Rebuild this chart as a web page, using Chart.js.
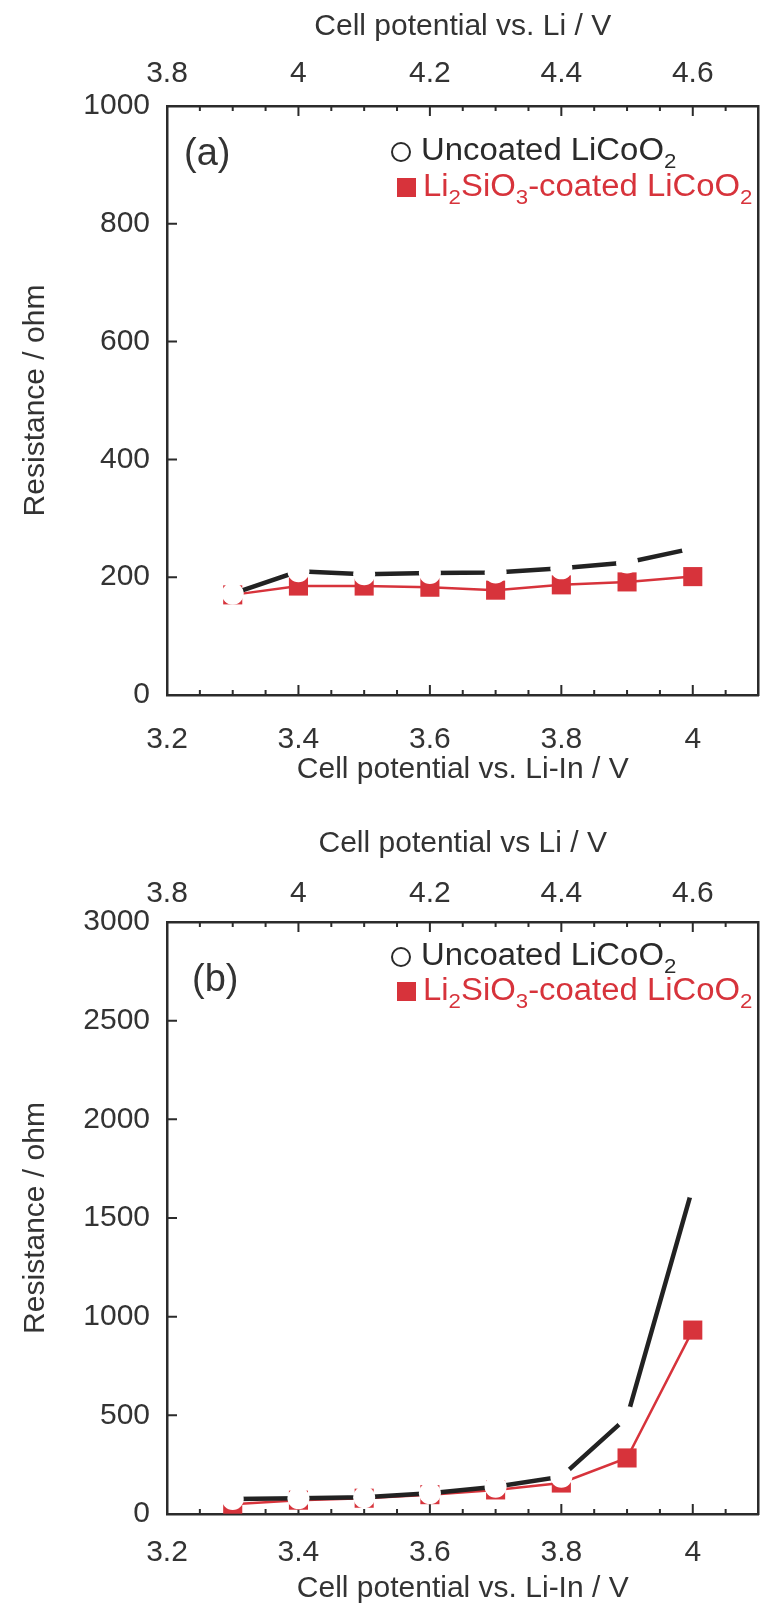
<!DOCTYPE html>
<html>
<head>
<meta charset="utf-8">
<script src="https://cdn.jsdelivr.net/npm/chart.js@4.4.1/dist/chart.umd.min.js"></script>
<style>
html,body{margin:0;padding:0;background:#fff;}
body{width:772px;height:1610px;position:relative;overflow:hidden;font-family:"Liberation Sans",Arial,Helvetica,sans-serif;}
.wrap{position:absolute;left:0;width:772px;}
#wa{top:0;height:800px;}
#wb{top:800px;height:810px;}
.row{position:absolute;height:40px;line-height:40px;white-space:nowrap;font-size:31px;transform:scaleX(1.06);transform-origin:0 50%;}
.row sub{font-size:21px;position:relative;top:8px;vertical-align:baseline;line-height:0;}
.circ{position:absolute;width:16px;height:16px;border:2px solid #2a2a2a;border-radius:50%;background:#fff;}
.sq{position:absolute;width:19px;height:19px;background:#d7333b;}
.panel{position:absolute;font-size:38px;height:40px;line-height:40px;color:#333;white-space:nowrap;}
</style>
</head>
<body>
<div class="wrap" id="wa"><canvas id="ca"></canvas></div>
<div class="wrap" id="wb"><canvas id="cb"></canvas></div>

<div class="panel" style="left:184px;top:132px;">(a)</div>
<div class="circ" style="left:391px;top:142px;"></div>
<div class="row" style="left:421px;top:130px;color:#2a2a2a;">Uncoated LiCoO<sub>2</sub></div>
<div class="sq" style="left:397px;top:178px;"></div>
<div class="row" style="left:423px;top:166px;color:#d7333b;">Li<sub>2</sub>SiO<sub>3</sub>-coated LiCoO<sub>2</sub></div>

<div class="panel" style="left:192px;top:958px;">(b)</div>
<div class="circ" style="left:391px;top:947px;"></div>
<div class="row" style="left:421px;top:935px;color:#2a2a2a;">Uncoated LiCoO<sub>2</sub></div>
<div class="sq" style="left:397px;top:982px;"></div>
<div class="row" style="left:423px;top:970px;color:#d7333b;">Li<sub>2</sub>SiO<sub>3</sub>-coated LiCoO<sub>2</sub></div>

<script>
// ---------- data ----------
const X_LIIN = [3.3, 3.4, 3.5, 3.6, 3.7, 3.8, 3.9, 4.0];
const A_UNCOATED = [172, 210, 205, 207, 208, 215, 225, 249];
const A_COATED   = [170, 185, 185, 183, 178, 187, 192, 201];
const B_UNCOATED = [76, 80, 85, 105, 138, 189, 490, 1657];
const B_COATED   = [50, 70, 80, 98, 122, 157, 284, 932];
const X_TICKS_BOTTOM = [3.2, 3.4, 3.6, 3.8, 4];
const X_TICKS_TOP = [3.8, 4, 4.2, 4.4, 4.6];
const Y_TICKS_A = [0, 200, 400, 600, 800, 1000];
const Y_TICKS_B = [0, 500, 1000, 1500, 2000, 2500, 3000];
const LI_OFFSET = 0.6;

// ---------- styles ----------
const FF = '"Liberation Sans", Arial, Helvetica, sans-serif';
const TXT = '#333333', AX = '#2b2b2b', RED = '#d7333b', BLK = '#222222';

const frameTicks = {
  id: 'frameTicks',
  beforeDatasetsDraw(chart, args, opts) {
    const {ctx, chartArea: ca, scales} = chart;
    const x = scales.x, x2 = scales.x2, y = scales.y;
    ctx.save();
    ctx.strokeStyle = AX; ctx.lineWidth = 2;
    ctx.beginPath();
    const n = Math.round((x.max - x.min) / opts.minorStep);
    for (let k = 1; k < n; k++) {
      const v = x.min + k * opts.minorStep;
      const len = (k % 4 === 0) ? opts.majorLen : opts.minorLen;
      const pb = x.getPixelForValue(v);
      const pt = x2.getPixelForValue(v + LI_OFFSET);
      ctx.moveTo(pb, ca.bottom); ctx.lineTo(pb, ca.bottom - len);
      ctx.moveTo(pt, ca.top); ctx.lineTo(pt, ca.top + len);
    }
    opts.yMajor.forEach(v => {
      if (v === y.min || v === y.max) return;
      const py = y.getPixelForValue(v);
      ctx.moveTo(ca.left, py); ctx.lineTo(ca.left + opts.yLen, py);
    });
    ctx.stroke();
    ctx.restore();
  }
};

function setTicks(arr) { return s => { s.ticks = arr.map(v => ({value: v})); }; }
const fmt = v => String(Math.round(v * 100) / 100);

function makeChart(id, cfg) {
  const font = {family: FF, size: 30};
  const tfont = {family: FF, size: 30};
  const border = {display: true, color: AX, width: 2.5};
  return new Chart(document.getElementById(id), {
    type: 'line',
    data: {
      datasets: [
        {
          label: 'Uncoated LiCoO2',
          data: X_LIIN.map((x, i) => ({x, y: cfg.unc[i]})),
          borderColor: BLK, borderWidth: 4.5,
          pointStyle: 'circle', pointRadius: 11, pointHoverRadius: 11,
          pointBackgroundColor: '#ffffff', pointBorderWidth: 0, pointBorderColor: '#ffffff',
          xAxisID: 'x', yAxisID: 'y', tension: 0, clip: false
        },
        {
          label: 'Li2SiO3-coated LiCoO2',
          data: X_LIIN.map((x, i) => ({x, y: cfg.coat[i]})),
          borderColor: RED, borderWidth: 2.5,
          pointStyle: 'rect', pointRadius: 13.5, pointHoverRadius: 13.5,
          pointBackgroundColor: RED, pointBorderWidth: 0, pointBorderColor: RED,
          xAxisID: 'x', yAxisID: 'y', tension: 0, clip: false
        }
      ]
    },
    options: {
      responsive: true, maintainAspectRatio: false, animation: false,
      events: [],
      layout: {padding: {left: 0, right: 3, top: 0, bottom: 0}},
      plugins: {
        legend: {display: false}, tooltip: {enabled: false},
        frameTicks: {minorStep: 0.05, majorLen: 10, minorLen: 5, yLen: 10, yMajor: cfg.yTicks}
      },
      scales: {
        x: {
          type: 'linear', position: 'bottom', min: 3.2, max: 4.1,
          afterBuildTicks: setTicks(X_TICKS_BOTTOM),
          afterFit: s => { s.height = cfg.bottomH; },
          grid: {display: false, drawTicks: false}, border,
          ticks: {padding: cfg.bTickPad, font, color: TXT, maxRotation: 0, autoSkip: false, callback: fmt},
          title: {display: true, text: 'Cell potential vs. Li-In / V', font: tfont, color: TXT, padding: {top: 0, bottom: cfg.bTitlePad}}
        },
        x2: {
          type: 'linear', position: 'top', min: 3.2 + LI_OFFSET, max: 4.1 + LI_OFFSET,
          afterBuildTicks: setTicks(X_TICKS_TOP),
          afterFit: s => { s.height = cfg.topH; },
          grid: {display: false, drawTicks: false}, border,
          ticks: {padding: cfg.tTickPad, font, color: TXT, maxRotation: 0, autoSkip: false, callback: fmt},
          title: {display: true, text: cfg.topTitle, font: tfont, color: TXT, padding: {top: cfg.tTitlePad, bottom: 0}}
        },
        y: {
          type: 'linear', position: 'left', min: 0, max: cfg.yMax,
          afterBuildTicks: setTicks(cfg.yTicks),
          afterFit: s => { s.width = 167; },
          grid: {display: false, drawTicks: false}, border,
          ticks: {padding: 17, font, color: TXT, autoSkip: false, callback: fmt},
          title: {display: true, text: 'Resistance / ohm', font: tfont, color: TXT, padding: {top: 18, bottom: 0}}
        },
        y2: {
          type: 'linear', position: 'right', min: 0, max: cfg.yMax,
          afterFit: s => { s.width = 0; },
          grid: {display: false, drawTicks: false}, border,
          ticks: {display: false}
        }
      }
    },
    plugins: [frameTicks]
  });
}

makeChart('ca', {
  unc: A_UNCOATED, coat: A_COATED, yMax: 1000, yTicks: Y_TICKS_A,
  topTitle: 'Cell potential vs. Li / V',
  topH: 106, bottomH: 105, tTickPad: 14, bTickPad: 27, tTitlePad: 9, bTitlePad: 12
});
makeChart('cb', {
  unc: B_UNCOATED, coat: B_COATED, yMax: 3000, yTicks: Y_TICKS_B,
  topTitle: 'Cell potential vs Li / V',
  topH: 122, bottomH: 96, tTickPad: 10, bTickPad: 21, tTitlePad: 26, bTitlePad: 3
});
</script>
</body>
</html>
